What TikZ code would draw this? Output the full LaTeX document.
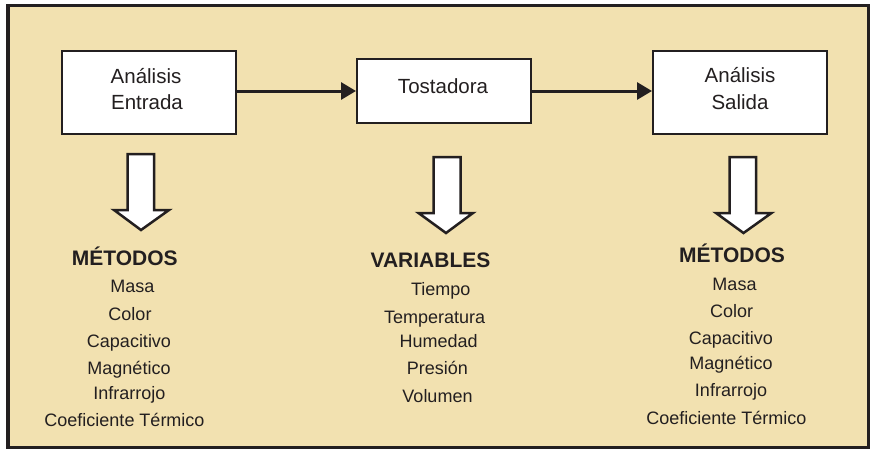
\documentclass[tikz,border=0pt]{standalone}
\usepackage{fontspec}
\setmainfont{Liberation Sans}
\usetikzlibrary{arrows.meta}
\definecolor{bg}{RGB}{242,225,176}
\definecolor{ink}{RGB}{35,31,32}
\tikzset{
  frame/.style={draw=ink,line width=3.5pt,fill=bg},
  box/.style={draw=ink,line width=2pt,fill=white,minimum width=174pt,inner sep=0pt},
  conn/.style={draw=ink,line width=3pt,-{Triangle[length=15pt,width=17pt]}},
  blockarrow/.style={draw=ink,line width=2.5pt,fill=white,line join=miter},
  boxtxt/.style={anchor=base,text=ink,font=\fontsize{20.5}{24}\selectfont,inner sep=0pt},
  item/.style={anchor=base,text=ink,font=\fontsize{18}{22}\selectfont,inner sep=0pt},
  head/.style={anchor=base,text=ink,font=\fontsize{21}{24}\selectfont\bfseries,inner sep=0pt}
}
\begin{document}
\begin{tikzpicture}[x=1pt,y=-1pt]
\useasboundingbox (0,0) rectangle (873,450);
\path[frame] (8,5.5) rectangle (868.5,447.5);

% boxes
\node[box,minimum height=83pt] (b1) at (149,92.5) {};
\node[box,minimum height=64pt] (b2) at (444,91) {};
\node[box,minimum height=83pt] (b3) at (740,92.5) {};
\node[boxtxt] (t1a) at (146,83.3) {Análisis};
\node[boxtxt] (t1b) at (147,109) {Entrada};
\node[boxtxt] (t2) at (443,93.3) {Tostadora};
\node[boxtxt] (t3a) at (740,82.3) {Análisis};
\node[boxtxt] (t3b) at (740,109.3) {Salida};

% connectors
\draw[conn] (b1.east |- b2.west) -- (b2.west);
\draw[conn] (b2.east) -- (b3.west |- b2.east);

% block arrows
\path[blockarrow] (127.5,154) -- (154,154) -- (154,210) -- (169,210) -- (141,230) -- (114,210) -- (127.5,210) -- cycle;
\path[blockarrow] (433.5,157) -- (460.5,157) -- (460.5,213) -- (473,213) -- (446,233) -- (418.5,213) -- (433.5,213) -- cycle;
\path[blockarrow] (729.5,157) -- (756,157) -- (756,213) -- (771.5,213) -- (743.5,233) -- (716,213) -- (729.5,213) -- cycle;

% left list
\node[head] (m1) at (124.7,265) {MÉTODOS};
\node[item] (l1) at (132.5,292.7) {Masa};
\node[item] (l2) at (130,320.7) {Color};
\node[item] (l3) at (129,347.3) {Capacitivo};
\node[item] (l4) at (129,374) {Magnético};
\node[item] (l5) at (129.3,399.3) {Infrarrojo};
\node[item] (l6) at (124.5,426) {Coeficiente Térmico};

% middle list
\node[head] (v0) at (430.5,267.7) {VARIABLES};
\node[item] (v1) at (440.7,295.7) {Tiempo};
\node[item] (v2) at (434.7,323.3) {Temperatura};
\node[item] (v3) at (438.7,347.3) {Humedad};
\node[item] (v4) at (437.3,374.3) {Presión};
\node[item] (v5) at (437.5,402.3) {Volumen};

% right list
\node[head] (m3) at (732,262.3) {MÉTODOS};
\node[item] (r1) at (734.5,290.7) {Masa};
\node[item] (r2) at (731.7,317.3) {Color};
\node[item] (r3) at (730.8,344) {Capacitivo};
\node[item] (r4) at (731,369.3) {Magnético};
\node[item] (r5) at (731,396) {Infrarrojo};
\node[item] (r6) at (726.3,424) {Coeficiente Térmico};
\end{tikzpicture}
\end{document}
